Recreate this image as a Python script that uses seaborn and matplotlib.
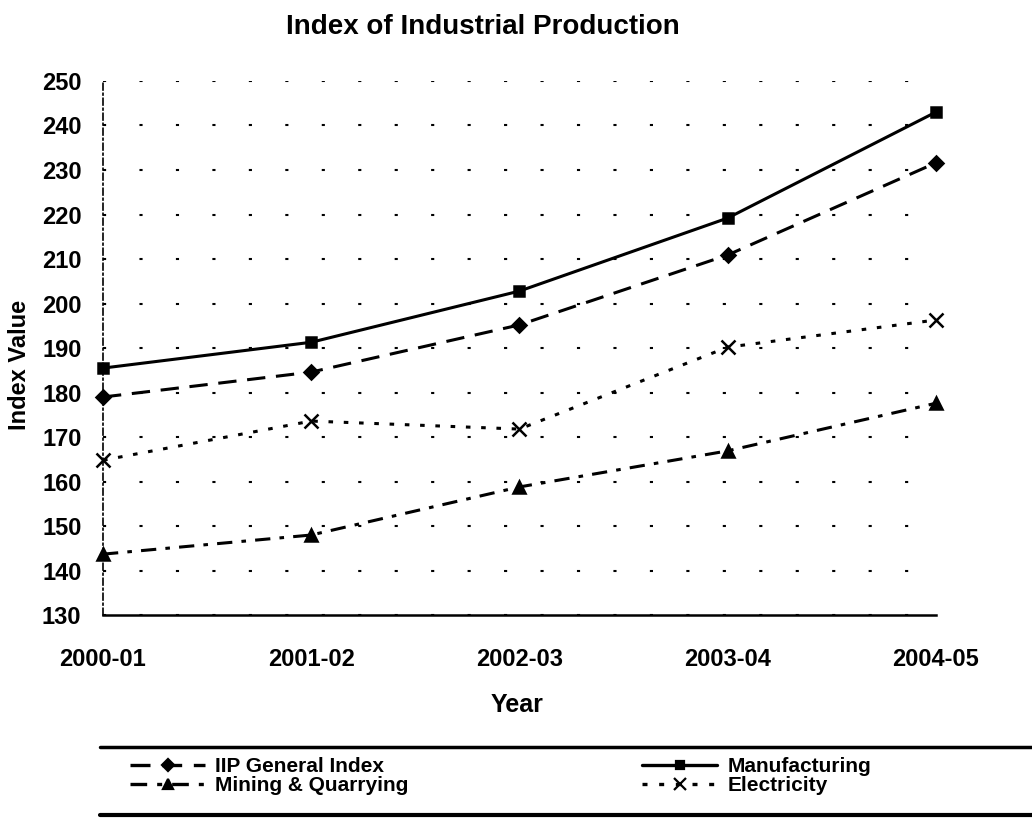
import matplotlib
matplotlib.use("Agg")
import matplotlib.pyplot as plt
import seaborn as sns
import pandas as pd
from matplotlib.lines import Line2D

years = ["2000-01", "2001-02", "2002-03", "2003-04", "2004-05"]
iip_general = [179.0, 184.6, 195.2, 210.9, 231.6]
manufacturing = [185.5, 191.3, 202.8, 219.2, 243.0]
mining = [143.7, 148.0, 158.8, 166.9, 177.6]
electricity = [164.8, 173.6, 171.8, 190.2, 196.3]
series_names = ["IIP General Index", "Manufacturing", "Mining & Quarrying", "Electricity"]
yticks = [130, 140, 150, 160, 170, 180, 190, 200, 210, 220, 230, 240, 250]

series_values = dict(zip(series_names, [iip_general, manufacturing, mining, electricity]))

sns.set_style("white")
plt.rcParams["font.family"] = ["Liberation Sans", "DejaVu Sans"]
plt.rcParams["text.color"] = "black"
plt.rcParams["axes.labelcolor"] = "black"
plt.rcParams["xtick.color"] = "black"
plt.rcParams["ytick.color"] = "black"

fig = plt.figure(figsize=(10.32, 8.18), dpi=100)
ax = fig.add_axes([0.0998, 0.248, 0.807, 0.653])

markers = {"IIP General Index": "D", "Manufacturing": "s",
           "Mining & Quarrying": "^", "Electricity": "x"}
dashes = {"IIP General Index": (6, 3.5), "Manufacturing": None,
          "Mining & Quarrying": (5, 3, 1.5, 3), "Electricity": (1.5, 3.5)}
msize = {"IIP General Index": 7, "Manufacturing": 7,
         "Mining & Quarrying": 8, "Electricity": 10}

handles = {}
for name in series_names:
    df = pd.DataFrame({"Year": years, "Value": series_values[name]})
    ls = "-" if dashes[name] is None else (0, dashes[name])
    sns.lineplot(data=df, x="Year", y="Value", color="black", marker=markers[name],
                 markersize=msize[name], markeredgecolor="black", markeredgewidth=1.8,
                 linewidth=2.2, linestyle=ls, ax=ax, sort=False, legend=False,
                 clip_on=False, zorder=3)
    handles[name] = Line2D([], [], color="black", marker=markers[name], linestyle=ls,
                           linewidth=2.4, markersize=msize[name] - 1, markeredgewidth=1.6)

ax.set_xlim(0, 4)
ax.set_ylim(130, 250)
ax.set_yticks(yticks)
ax.set_xticks(range(len(years)))
ax.set_xticklabels(years)

for s in ["top", "right"]:
    ax.spines[s].set_visible(False)
ax.spines["left"].set_linestyle((0, (4, 2, 1, 2)))
ax.spines["left"].set_color("black")
ax.spines["left"].set_linewidth(1.2)
ax.spines["bottom"].set_color("black")
ax.spines["bottom"].set_linewidth(1.8)

ax.yaxis.grid(True, linestyle=(0, (1.5, 16)), color="black", linewidth=1.5)
ax.xaxis.grid(False)
ax.tick_params(axis="both", which="both", direction="inout", length=7,
               width=1.2, colors="black", labelsize=17)
for lab in ax.get_xticklabels() + ax.get_yticklabels():
    lab.set_fontweight("bold")
ax.tick_params(axis="x", pad=20)
ax.tick_params(axis="y", pad=12)

ax.set_xlabel("Year", fontsize=18, fontweight="bold")
ax.set_ylabel("Index Value", fontsize=17, fontweight="bold")
ax.xaxis.set_label_coords(0.497, -0.146)
ax.yaxis.set_label_coords(-0.087, 0.468)
fig.text(0.468, 0.967, "Index of Industrial Production", ha="center", va="center",
         fontsize=20, fontweight="bold")

order = ["IIP General Index", "Mining & Quarrying", "Manufacturing", "Electricity"]
leg = fig.legend([handles[n] for n in order], order, loc="center left",
                 bbox_to_anchor=(0.126, 0.0513), ncol=2, frameon=False,
                 borderpad=0, borderaxespad=0,
                 prop={"weight": "bold", "size": 15}, columnspacing=11.2,
                 handlelength=3.6, handletextpad=0.5, labelspacing=0.0)

fig.add_artist(Line2D([0.097, 1.0], [0.087, 0.087], color="black", linewidth=2.5,
                      transform=fig.transFigure))
fig.add_artist(Line2D([0.097, 1.0], [0.004, 0.004], color="black", linewidth=3,
                      transform=fig.transFigure))

fig.savefig("out.png", dpi=100)
